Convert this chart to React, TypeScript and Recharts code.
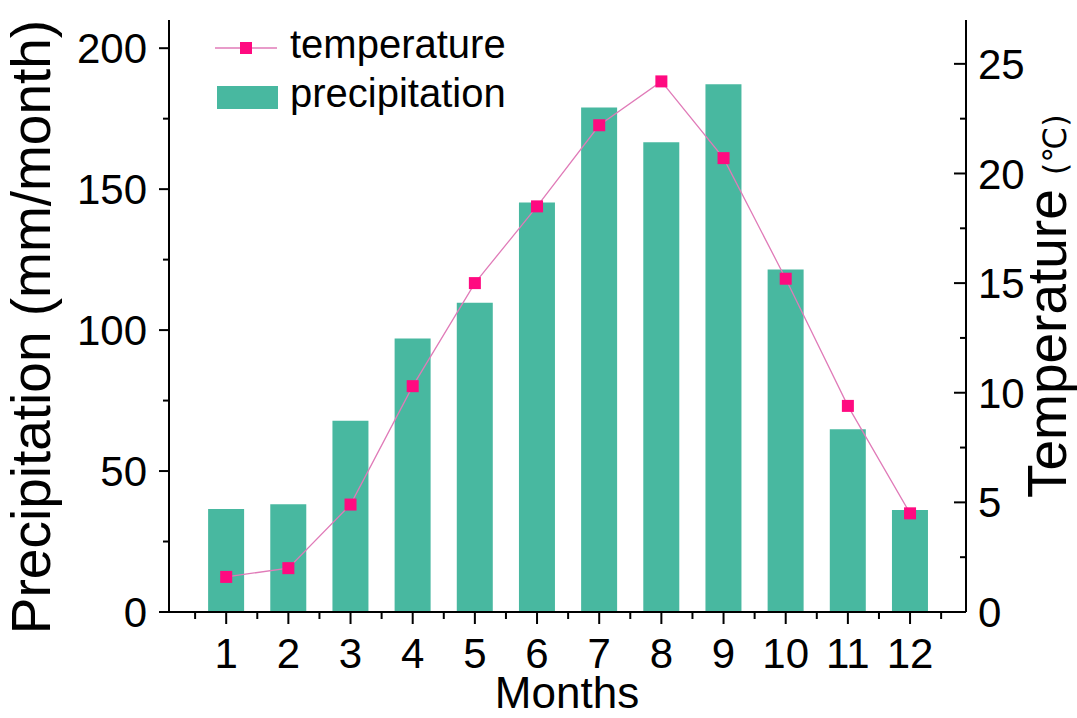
import { Bar, ComposedChart, Label, Legend, Line, XAxis, YAxis } from 'recharts';

const months = [1, 2, 3, 4, 5, 6, 7, 8, 9, 10, 11, 12];
const precipitation = [36.5, 38.2, 67.8, 97, 109.7, 145.3, 179, 166.6, 187.2, 121.5, 64.8, 36.2];
const temperature = [1.6, 2.0, 4.9, 10.3, 15.0, 18.5, 22.2, 24.2, 20.7, 15.2, 9.4, 4.5];

const monthTicks = [0.5, 1, 1.5, 2, 2.5, 3, 3.5, 4, 4.5, 5, 5.5, 6, 6.5, 7, 7.5, 8, 8.5, 9, 9.5, 10, 10.5, 11, 11.5, 12, 12.5];
const precipTicks = [0, 25, 50, 75, 100, 125, 150, 175, 200];
const tempTicks = [0, 2.5, 5, 7.5, 10, 12.5, 15, 17.5, 20, 22.5, 25];

const data = months.map((m, i) => ({
  month: m,
  precipitation: precipitation[i],
  temperature: temperature[i],
}));

const FONT = '"Liberation Sans", Arial, sans-serif';
const BAR_COLOR = '#48b8a0';
const MARKER_COLOR = '#ff0a80';
const LINE_COLOR = '#e07bb8';

const XTick = (props: any) => {
  const { x, y, payload } = props;
  const v = payload.value;
  const major = Number.isInteger(v);
  return (
    <g>
      <line x1={x} y1={y} x2={x} y2={y + (major ? 12 : 7)} stroke='#000' strokeWidth={2} />
      {major && (
        <text x={x} y={y + 56} textAnchor='middle' fontSize={42} fontFamily={FONT} fill='#000'>
          {v}
        </text>
      )}
    </g>
  );
};

const LeftTick = (props: any) => {
  const { x, y, payload } = props;
  const v = payload.value;
  const major = v % 50 === 0;
  return (
    <g>
      <line x1={x - (major ? 10 : 6)} y1={y} x2={x} y2={y} stroke='#000' strokeWidth={2} />
      {major && (
        <text x={x - 22} y={y} dy='0.36em' textAnchor='end' fontSize={42} fontFamily={FONT} fill='#000'>
          {v}
        </text>
      )}
    </g>
  );
};

const RightTick = (props: any) => {
  const { x, y, payload } = props;
  const v = payload.value;
  const major = v % 5 === 0;
  return (
    <g>
      <line x1={x - (major ? 12 : 6)} y1={y} x2={x} y2={y} stroke='#000' strokeWidth={2} />
      {major && (
        <text x={x + 12} y={y} dy='0.36em' textAnchor='start' fontSize={42} fontFamily={FONT} fill='#000'>
          {v}
        </text>
      )}
    </g>
  );
};

const SquareDot = (props: any) => {
  const { cx, cy, index } = props;
  return <rect key={`dot-${index}`} x={cx - 6} y={cy - 6} width={12} height={12} fill={MARKER_COLOR} />;
};

const LegendBox = () => (
  <svg width={320} height={110}>
    <line x1={5} y1={33} x2={67} y2={33} stroke={LINE_COLOR} strokeWidth={1.5} />
    <rect x={30} y={27} width={12} height={12} fill={MARKER_COLOR} />
    <text x={80} y={43} fontSize={40} fontFamily={FONT} fill='#000'>
      temperature
    </text>
    <rect x={7} y={71} width={61} height={23} fill={BAR_COLOR} />
    <text x={80} y={92} fontSize={40} fontFamily={FONT} fill='#000'>
      precipitation
    </text>
  </svg>
);

const App = () => {
  return (
    <div style={{ position: 'absolute', left: 0, top: 0, width: 1077, height: 718, background: '#fff' }}>
      <ComposedChart width={1077} height={718} data={data} margin={{ top: 20, right: 0, bottom: 0, left: 0 }}>
        <XAxis
          xAxisId='bars'
          dataKey='month'
          type='number'
          domain={[0.08, 12.9]}
          ticks={months}
          allowDataOverflow
          height={0}
          hide
        />
        <XAxis
          xAxisId='main'
          dataKey='month'
          type='number'
          domain={[0.08, 12.9]}
          ticks={monthTicks}
          interval={0}
          allowDataOverflow
          height={106}
          tickSize={0}
          tickMargin={0}
          tickLine={false}
          axisLine={{ stroke: '#000', strokeWidth: 2 }}
          tick={<XTick />}>
          <Label
            content={() => (
              <text x={567} y={708} textAnchor='middle' fontSize={44} fontFamily={FONT} fill='#000'>
                Months
              </text>
            )}
          />
        </XAxis>
        <YAxis
          yAxisId='left'
          orientation='left'
          width={169}
          domain={[0, 210]}
          ticks={precipTicks}
          interval={0}
          allowDataOverflow
          tickSize={0}
          tickMargin={0}
          tickLine={false}
          axisLine={{ stroke: '#000', strokeWidth: 2 }}
          tick={<LeftTick />}>
          <Label
            content={() => (
              <text
                x={50}
                y={327}
                transform='rotate(-90 50 327)'
                textAnchor='middle'
                fontSize={55}
                fontFamily={FONT}
                fill='#000'>
                Precipitation (mm/month)
              </text>
            )}
          />
        </YAxis>
        <YAxis
          yAxisId='right'
          orientation='right'
          width={111}
          domain={[0, 27]}
          ticks={tempTicks}
          interval={0}
          allowDataOverflow
          tickSize={0}
          tickMargin={0}
          tickLine={false}
          axisLine={{ stroke: '#000', strokeWidth: 2 }}
          tick={<RightTick />}>
          <Label
            content={() => (
              <text transform='translate(1066 498) rotate(-90)' textAnchor='start' fontFamily={FONT} fill='#000'>
                <tspan fontSize={55}>Temperature</tspan>
                <tspan fontSize={32} dx={14} fontFamily='"DejaVu Sans", "Liberation Sans", sans-serif'>
                  (℃)
                </tspan>
              </text>
            )}
          />
        </YAxis>
        <Legend
          layout='vertical'
          align='center'
          verticalAlign='middle'
          wrapperStyle={{ left: 210, top: 15, width: 320, height: 110 }}
          content={() => <LegendBox />}
        />
        <Bar
          xAxisId='bars'
          yAxisId='left'
          dataKey='precipitation'
          fill={BAR_COLOR}
          barSize={36}
          isAnimationActive={false}
        />
        <Line
          xAxisId='main'
          yAxisId='right'
          dataKey='temperature'
          stroke={LINE_COLOR}
          strokeWidth={1.3}
          dot={SquareDot}
          activeDot={false}
          isAnimationActive={false}
        />
      </ComposedChart>
    </div>
  );
};

export default App;
